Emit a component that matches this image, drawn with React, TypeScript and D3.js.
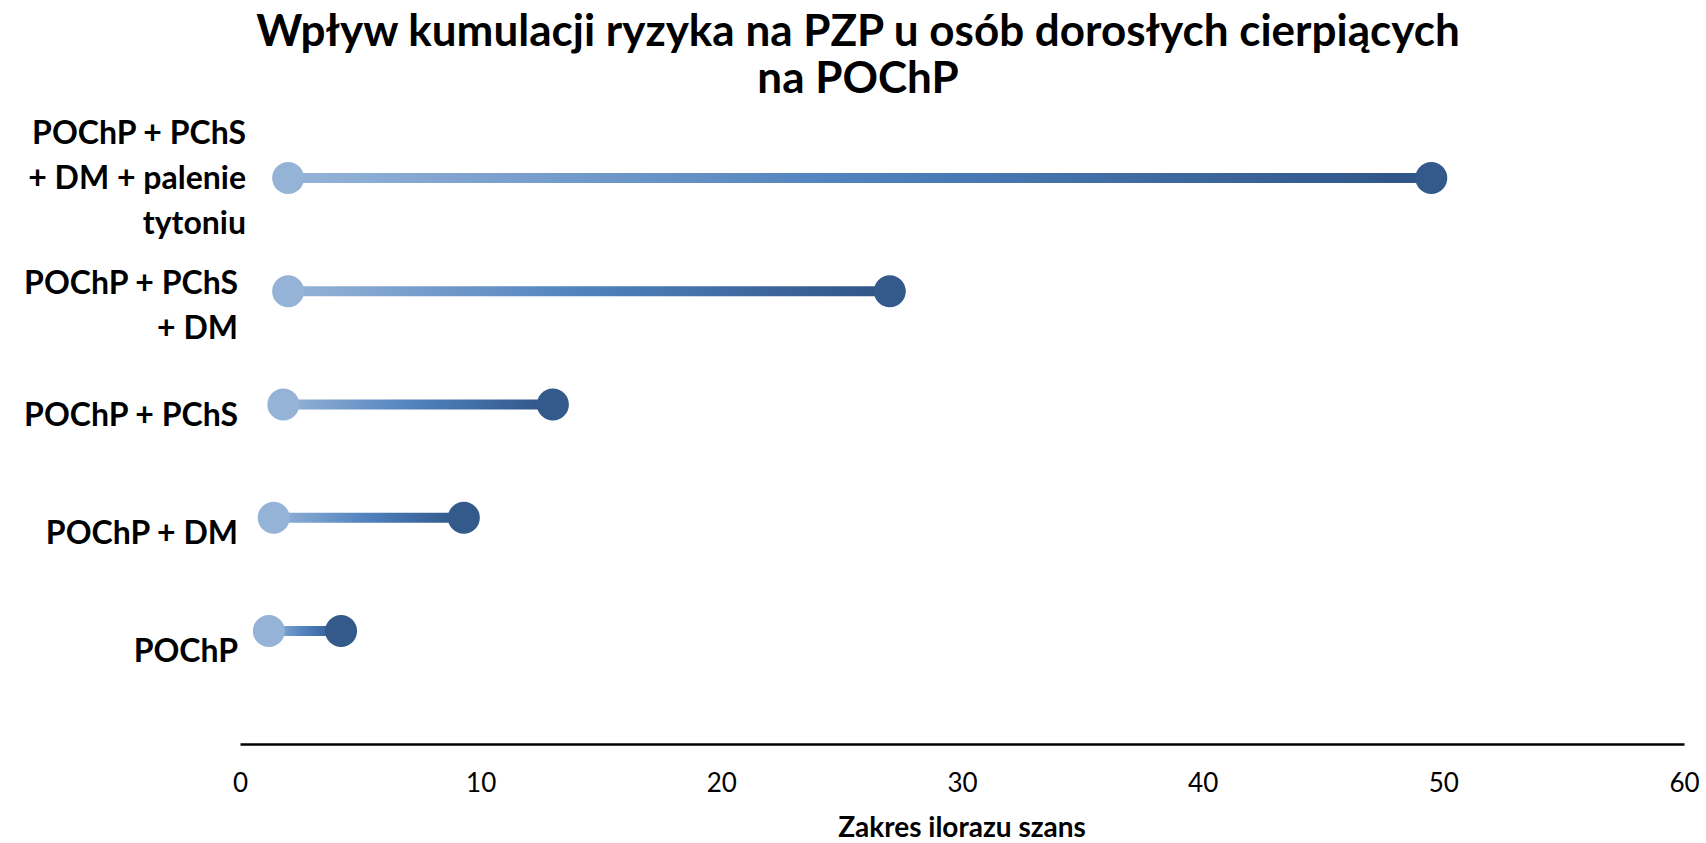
import React, { useEffect, useRef } from 'react';
import * as d3 from 'd3';

// categories, bottom to top
const categories = [
  'POChP',
  'POChP + DM',
  'POChP + PChS',
  'POChP + PChS + DM',
  'POChP + PChS + DM + palenie tytoniu',
];
const categoryLines = [
  ['POChP'],
  ['POChP + DM'],
  ['POChP + PChS'],
  ['POChP + PChS', '+ DM'],
  ['POChP + PChS', '+ DM + palenie', 'tytoniu'],
];
const lowValues = [1.2, 1.4, 1.8, 2.0, 2.0];
const highValues = [4.2, 9.3, 13.0, 27.0, 49.5];
const xTicks = [0, 10, 20, 30, 40, 50, 60];

const titleLines = ['Wpływ kumulacji ryzyka na PZP u osób dorosłych cierpiących', 'na POChP'];
const xTitle = 'Zakres ilorazu szans';

const FONT = 'Lato, "Open Sans", sans-serif';

const Chart = () => {
  const svgRef = useRef<SVGSVGElement | null>(null);

  useEffect(() => {
    const svg = d3.select(svgRef.current);
    if (!svgRef.current) return;
    svg.selectAll('*').remove();

    const width = 1706;
    const height = 843;
    const left = 240;
    const right = 1684;
    const axisY = 744;

    const x = d3.scaleLinear().domain([0, 60]).range([left, right]);
    // dots and category labels sit on slightly different rows, as in the original
    const yDot = d3.scalePoint<string>().domain(categories).range([631, 178]);
    const yLabel = d3.scalePoint<string>().domain(categories).range([651, 178]);

    svg.attr('width', width).attr('height', height);

    const defs = svg.append('defs');
    categories.forEach((c, i) => {
      const g = defs.append('linearGradient')
        .attr('id', `grad${i}`)
        .attr('gradientUnits', 'userSpaceOnUse')
        .attr('x1', x(lowValues[i])).attr('x2', x(highValues[i]))
        .attr('y1', 0).attr('y2', 0);
      g.append('stop').attr('offset', '0%').attr('stop-color', '#95b3d7');
      g.append('stop').attr('offset', '50%').attr('stop-color', '#4f81bd');
      g.append('stop').attr('offset', '100%').attr('stop-color', '#2f5486');
    });

    // title
    svg.append('g').selectAll('text')
      .data(titleLines)
      .join('text')
      .attr('x', 858)
      .attr('y', (d, i) => 46 + i * 47)
      .attr('text-anchor', 'middle')
      .attr('font-family', FONT)
      .attr('font-weight', 700)
      .attr('font-size', 44)
      .attr('fill', '#000')
      .text(d => d);

    // x axis
    const axis = svg.append('g')
      .attr('transform', `translate(0,${axisY})`)
      .call(d3.axisBottom(x).tickValues(xTicks).tickSize(0).tickPadding(30));
    axis.select('.domain').attr('stroke', '#000').attr('stroke-width', 2.5);
    axis.selectAll('text')
      .attr('font-family', FONT)
      .attr('font-size', 26)
      .attr('fill', '#000');

    svg.append('text')
      .attr('x', (left + right) / 2)
      .attr('y', 837)
      .attr('text-anchor', 'middle')
      .attr('font-family', FONT)
      .attr('font-weight', 700)
      .attr('font-size', 28)
      .text(xTitle);

    // category labels
    const lh = 45;
    const labels = svg.append('g')
      .selectAll('text')
      .data(categories)
      .join('text')
      .attr('text-anchor', 'end')
      .attr('font-family', FONT)
      .attr('font-weight', 700)
      .attr('font-size', 32)
      .attr('fill', '#000');
    labels.each(function (c, i) {
      const lines = categoryLines[i];
      const nudge = lines.length === 2 ? 9 : 0;
      const y0 = (yLabel(c) as number) - ((lines.length - 1) * lh) / 2 + nudge;
      d3.select(this).selectAll('tspan')
        .data(lines)
        .join('tspan')
        .attr('x', i === 4 ? 246 : 238)
        .attr('y', (d, j) => y0 + j * lh)
        .attr('dy', '0.35em')
        .text(d => d);
    });

    // dumbbells
    const rows = svg.append('g')
      .selectAll('g')
      .data(categories)
      .join('g');
    rows.append('line')
      .attr('x1', (c, i) => x(lowValues[i]))
      .attr('x2', (c, i) => x(highValues[i]))
      .attr('y1', c => yDot(c) as number)
      .attr('y2', c => yDot(c) as number)
      .attr('stroke', (c, i) => `url(#grad${i})`)
      .attr('stroke-width', 10);
    rows.append('circle')
      .attr('cx', (c, i) => x(lowValues[i]))
      .attr('cy', c => yDot(c) as number)
      .attr('r', 16)
      .attr('fill', '#95b3d7');
    rows.append('circle')
      .attr('cx', (c, i) => x(highValues[i]))
      .attr('cy', c => yDot(c) as number)
      .attr('r', 16)
      .attr('fill', '#335a8a');
  }, []);

  return <svg ref={svgRef} style={{ position: 'absolute', left: 0, top: 0, background: '#fff' }}></svg>;
};

export default function App() {
  return <Chart />;
}
